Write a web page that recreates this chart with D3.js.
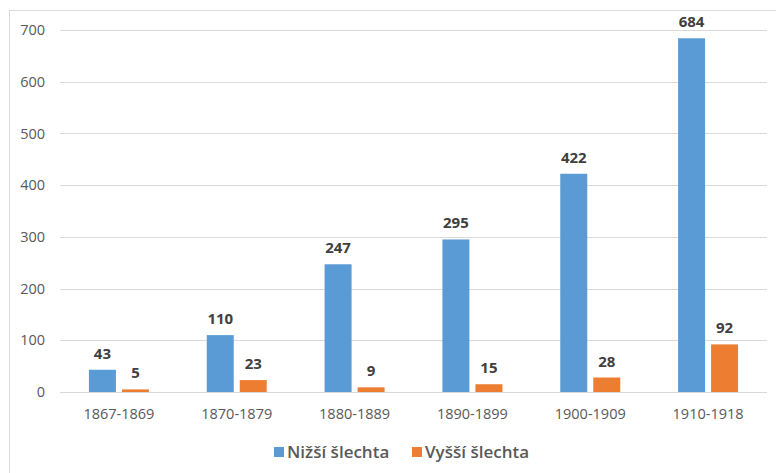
<!DOCTYPE html>
<html>
<head>
<meta charset="utf-8">
<script src="https://cdn.jsdelivr.net/npm/d3@7"></script>
<style>
  html, body { margin: 0; padding: 0; background: #fff; }
  svg { display: block; font-family: "Open Sans", "Noto Sans", sans-serif; }
</style>
</head>
<body>
<div id="chart"></div>
<script>
// data
const categories = ['1867-1869', '1870-1879', '1880-1889', '1890-1899', '1900-1909', '1910-1918'];
const nizsi = [43, 110, 247, 295, 422, 684];
const vyssi = [5, 23, 9, 15, 28, 92];
const seriesNames = ['Nižší šlechta', 'Vyšší šlechta'];
const yTicks = [0, 100, 200, 300, 400, 500, 600, 700];

const W = 776, H = 473;
const COLORS = ['#5B9BD5', '#ED7D31'];
const margin = { left: 60, right: 9, top: 30, bottom: 81 };

const svg = d3.select('#chart').append('svg')
  .attr('width', W)
  .attr('height', H);

// chart frame
svg.append('rect')
  .attr('x', 9.5).attr('y', 10.5)
  .attr('width', W + 20).attr('height', H + 20)
  .attr('fill', 'none')
  .attr('stroke', '#D9D9D9');

const x = d3.scaleBand()
  .domain(categories)
  .range([margin.left, W - margin.right]);

const y = d3.scaleLinear()
  .domain([0, 700])
  .range([H - margin.bottom, margin.top]);

// gridlines
svg.append('g')
  .selectAll('line')
  .data(yTicks)
  .join('line')
  .attr('x1', margin.left).attr('x2', W - margin.right)
  .attr('y1', d => Math.round(y(d)) + 0.5)
  .attr('y2', d => Math.round(y(d)) + 0.5)
  .attr('stroke', '#D9D9D9')
  .attr('stroke-width', 1);

// y labels
svg.append('g')
  .selectAll('text')
  .data(yTicks)
  .join('text')
  .attr('x', 45)
  .attr('y', d => y(d))
  .attr('dy', '0.35em')
  .attr('text-anchor', 'end')
  .attr('font-size', 14.5)
  .attr('fill', '#595959')
  .text(d => d);

// x labels
svg.append('g')
  .selectAll('text')
  .data(categories)
  .join('text')
  .attr('x', d => x(d) + x.bandwidth() / 2)
  .attr('y', 419)
  .attr('text-anchor', 'middle')
  .attr('font-size', 14.5)
  .attr('fill', '#595959')
  .text(d => d);

const barW = 27, gap = 6;
const series = [nizsi, vyssi];

series.forEach((vals, si) => {
  const offset = si === 0 ? -(gap / 2 + barW) : gap / 2;
  const g = svg.append('g');
  g.selectAll('rect')
    .data(vals)
    .join('rect')
    .attr('x', (d, i) => x(categories[i]) + x.bandwidth() / 2 + offset)
    .attr('y', d => y(d))
    .attr('width', barW)
    .attr('height', d => y(0) - y(d))
    .attr('fill', COLORS[si]);
  g.selectAll('text')
    .data(vals)
    .join('text')
    .attr('x', (d, i) => x(categories[i]) + x.bandwidth() / 2 + offset + barW / 2)
    .attr('y', d => y(d) - 11)
    .attr('text-anchor', 'middle')
    .attr('font-size', 15)
    .attr('font-weight', 'bold')
    .attr('fill', '#404040')
    .text(d => d);
});

// legend
const legendX = [274, 412];
const leg = svg.append('g');
seriesNames.forEach((name, i) => {
  leg.append('rect')
    .attr('x', legendX[i]).attr('y', 447)
    .attr('width', 10).attr('height', 10)
    .attr('fill', COLORS[i]);
  leg.append('text')
    .attr('x', legendX[i] + 13)
    .attr('y', 452)
    .attr('dy', '0.35em')
    .attr('font-size', 17)
    .attr('font-weight', 600)
    .attr('fill', '#595959')
    .text(name);
});
</script>
</body>
</html>
